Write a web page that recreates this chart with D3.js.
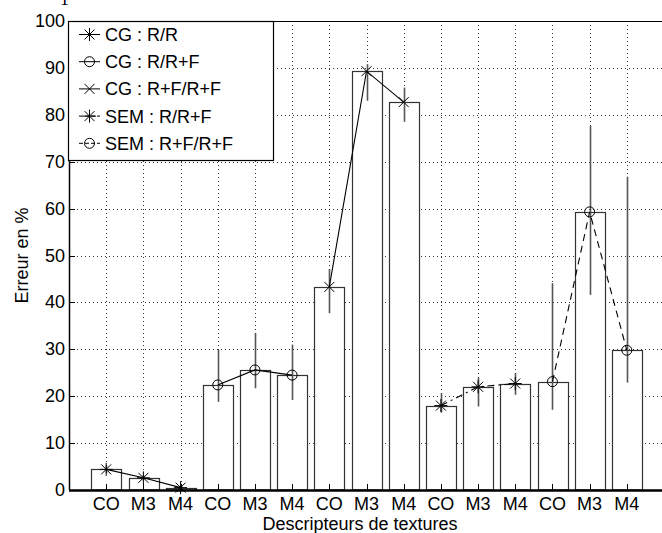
<!DOCTYPE html>
<html>
<head>
<meta charset="utf-8">
<script src="https://cdn.jsdelivr.net/npm/d3@7"></script>
<style>
body { margin: 0; background: #fff; }
text { font-family: "Liberation Sans", Arial, sans-serif; }
</style>
</head>
<body>
<div id="chart"></div>
<script>
// descripteurs (1 barre chacun)
var labels = ["CO", "M3", "M4", "CO", "M3", "M4", "CO", "M3", "M4", "CO", "M3", "M4", "CO", "M3", "M4"];
var values = [4.4, 2.6, 0.5, 22.4, 25.6, 24.5, 43.3, 89.3, 82.7, 18.0, 22.0, 22.7, 23.1, 59.3, 29.8];
var errLow = [3.6, 2.0, 0.1, 18.8, 21.7, 19.2, 37.7, 83.0, 78.5, 16.5, 17.8, 20.3, 17.1, 41.6, 22.9];
var errHigh = [5.2, 3.2, 0.9, 29.9, 33.5, 31.0, 47.1, 90.8, 85.8, 20.7, 24.0, 24.9, 44.1, 77.6, 66.8];

var seriesNames = ["CG : R/R", "CG : R/R+F", "CG : R+F/R+F", "SEM : R/R+F", "SEM : R+F/R+F"];
var seriesBars = [[0, 1, 2], [3, 4, 5], [6, 7, 8], [9, 10, 11], [12, 13, 14]];
var yTicks = [0, 10, 20, 30, 40, 50, 60, 70, 80, 90, 100];

// styles of each series
var markers = ["star", "circle", "cross", "star", "circle"];
var dashes = [null, null, null, "7,4,2,4", "7,5"];

var W = 662, H = 533;
var svg = d3.select("#chart").append("svg")
    .attr("width", W)
    .attr("height", H)

var x = d3.scaleLinear().domain([0, labels.length + 1]).range([69, 664]);
var y = d3.scaleLinear().domain([0, 100]).range([490, 21]);
var barW = x(0.8) - x(0);

// grid
var grid = svg.append("g")
    .attr("stroke", "#000")
    .attr("stroke-width", 0.8)
    .attr("stroke-dasharray", "1,3")
grid.selectAll(".gv").data(labels).enter().append("line")
    .attr("x1", function(d, i) { return Math.round(x(i + 1)) + 0.5; })
    .attr("x2", function(d, i) { return Math.round(x(i + 1)) + 0.5; })
    .attr("y1", y(0))
    .attr("y2", y(100))
grid.selectAll(".gh").data(yTicks.slice(1, -1)).enter().append("line")
    .attr("x1", x(0))
    .attr("x2", x(16))
    .attr("y1", function(d) { return Math.round(y(d)) + 0.5; })
    .attr("y2", function(d) { return Math.round(y(d)) + 0.5; })

// bars
svg.selectAll(".bar").data(values).enter().append("rect")
    .attr("x", function(d, i) { return Math.round(x(i + 1) - barW / 2) + 0.5; })
    .attr("y", function(d) { return Math.round(y(d)) + 0.5; })
    .attr("width", Math.round(barW))
    .attr("height", function(d) { return y(0) - Math.round(y(d)) - 0.5; })
    .attr("fill", "#fff")
    .attr("stroke", "#333")
    .attr("stroke-width", 1.2)

// error bars
svg.selectAll(".err").data(values).enter().append("line")
    .attr("x1", function(d, i) { return Math.round(x(i + 1)) + 0.5; })
    .attr("x2", function(d, i) { return Math.round(x(i + 1)) + 0.5; })
    .attr("y1", function(d, i) { return y(errLow[i]); })
    .attr("y2", function(d, i) { return y(errHigh[i]); })
    .attr("stroke", "#555")
    .attr("stroke-width", 1.6)

function drawMarker(g, type, cx, cy) {
    var s = 5;
    if (type == "circle") {
        g.append("circle")
            .attr("cx", cx).attr("cy", cy).attr("r", s)
            .attr("fill", "none").attr("stroke", "#000").attr("stroke-width", 1)
        return;
    }
    var segs = [[-s, -s, s, s], [-s, s, s, -s]];
    if (type == "star") {
        segs.push([-s * 1.3, 0, s * 1.3, 0]);
        segs.push([0, -s * 1.3, 0, s * 1.3]);
    }
    segs.forEach(function(p) {
        g.append("line")
            .attr("x1", cx + p[0]).attr("y1", cy + p[1])
            .attr("x2", cx + p[2]).attr("y2", cy + p[3])
            .attr("stroke", "#000").attr("stroke-width", 1)
    });
}

// series lines + markers
var line = d3.line()
    .x(function(i) { return x(i + 1); })
    .y(function(i) { return y(values[i]); })

seriesBars.forEach(function(idx, k) {
    svg.append("path")
        .attr("d", line(idx))
        .attr("fill", "none")
        .attr("stroke", "#000")
        .attr("stroke-width", 1.1)
        .attr("stroke-dasharray", dashes[k])
    var g = svg.append("g");
    idx.forEach(function(i) {
        drawMarker(g, markers[k], x(i + 1), y(values[i]));
    });
});

// axes
svg.append("line")
    .attr("x1", x(0)).attr("x2", x(16))
    .attr("y1", y(0) + 0.5).attr("y2", y(0) + 0.5)
    .attr("stroke", "#000").attr("stroke-width", 2.5)
svg.append("line")
    .attr("x1", x(0)).attr("x2", x(16))
    .attr("y1", y(100) + 0.5).attr("y2", y(100) + 0.5)
    .attr("stroke", "#000").attr("stroke-width", 1)
svg.append("line")
    .attr("x1", x(0) + 0.5).attr("x2", x(0) + 0.5)
    .attr("y1", y(0)).attr("y2", y(100))
    .attr("stroke", "#000").attr("stroke-width", 1.5)

// y ticks + labels
yTicks.forEach(function(t) {
    svg.append("line")
        .attr("x1", x(0)).attr("x2", x(0) + 6)
        .attr("y1", Math.round(y(t)) + 0.5).attr("y2", Math.round(y(t)) + 0.5)
        .attr("stroke", "#000").attr("stroke-width", 1)
    svg.append("text")
        .attr("x", x(0) - 4)
        .attr("y", y(t) + 6)
        .attr("text-anchor", "end")
        .style("font-size", "18px")
        .text(t)
});

// x ticks + labels
labels.forEach(function(l, i) {
    svg.append("line")
        .attr("x1", Math.round(x(i + 1)) + 0.5).attr("x2", Math.round(x(i + 1)) + 0.5)
        .attr("y1", y(0)).attr("y2", y(0) - 6)
        .attr("stroke", "#000").attr("stroke-width", 1)
    svg.append("text")
        .attr("x", x(i + 1))
        .attr("y", 510)
        .attr("text-anchor", "middle")
        .style("font-size", "18px")
        .text(l)
});

svg.append("text")
    .attr("x", 360)
    .attr("y", 529.5)
    .attr("text-anchor", "middle")
    .style("font-size", "18px")
    .text("Descripteurs de textures")

svg.append("text")
    .attr("transform", "translate(28," + (y(50)) + ") rotate(-90)")
    .attr("text-anchor", "middle")
    .style("font-size", "18px")
    .text("Erreur en %")

// fragment above the figure
svg.append("text")
    .attr("x", 60)
    .attr("y", 5)
    .style("font-family", "Liberation Serif")
    .style("font-size", "18px")
    .text("1")

// legend
var lg = svg.append("g");
lg.append("rect")
    .attr("x", 68.5).attr("y", 21.5)
    .attr("width", 205).attr("height", 139)
    .attr("fill", "#fff")
    .attr("stroke", "#000")
    .attr("stroke-width", 1.2)
seriesNames.forEach(function(n, k) {
    var ly = 34.5 + k * 27.2;
    lg.append("line")
        .attr("x1", 79).attr("x2", 100)
        .attr("y1", ly).attr("y2", ly)
        .attr("stroke", "#000").attr("stroke-width", 1)
        .attr("stroke-dasharray", k >= 3 ? "4,2" : null)
    drawMarker(lg, markers[k], 89.5, ly);
    lg.append("text")
        .attr("x", 105)
        .attr("y", ly + 6.5)
        .style("font-size", "18px")
        .text(n)
});
</script>
</body>
</html>
